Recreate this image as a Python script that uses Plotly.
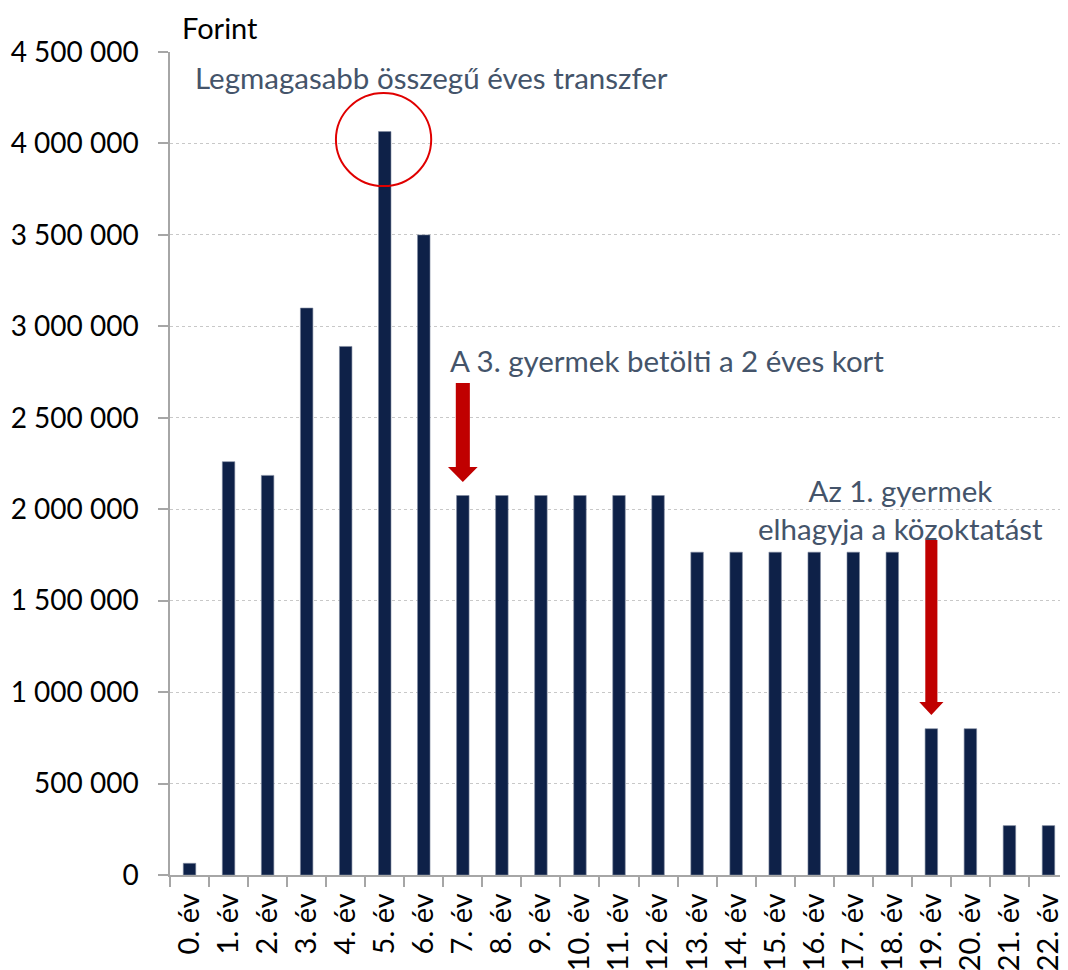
import plotly.graph_objects as go

categories = [f"{i}. év" for i in range(23)]
values = [64000, 2260000, 2185000, 3100000, 2890000, 4065000, 3500000,
          2075000, 2075000, 2075000, 2075000, 2075000, 2075000,
          1765000, 1765000, 1765000, 1765000, 1765000, 1765000,
          800000, 800000, 270000, 270000]
y_ticks = list(range(0, 4500001, 500000))
y_tick_labels = [f"{v:,}".replace(",", " ") for v in y_ticks]

FONT = "Lato"
NAVY = "#0E2148"
NOTE = "#44546A"

fig = go.Figure()
fig.add_trace(go.Bar(
    x=categories, y=values, width=0.32,
    marker=dict(color=NAVY, line=dict(color="#7f8aa0", width=0.6)),
    hoverinfo="x+y",
))

def arrow_path(xc, hw_shaft, hw_head, y_top, y_head, y_tip):
    return (f"M {xc-hw_shaft} {y_top} L {xc+hw_shaft} {y_top} L {xc+hw_shaft} {y_head} "
            f"L {xc+hw_head} {y_head} L {xc} {y_tip} L {xc-hw_head} {y_head} "
            f"L {xc-hw_shaft} {y_head} Z")

shapes = [
    dict(type="circle", xref="x", yref="y", x0=3.75, x1=6.19, y0=3.767e6, y1=4.276e6,
         line=dict(color="#E00000", width=2)),
    dict(type="path", xref="x", yref="y",
         path=arrow_path(7, 0.18, 0.38, 2.69e6, 2.231e6, 2.149e6),
         fillcolor="#C00000", line=dict(width=0)),
    dict(type="path", xref="x", yref="y",
         path=arrow_path(19, 0.155, 0.31, 1.832e6, 0.946e6, 0.875e6),
         fillcolor="#C00000", line=dict(width=0)),
]

annotations = [
    dict(text="Forint", xref="paper", yref="paper", x=0.011, y=1.053, xanchor="left",
         yanchor="top", showarrow=False, font=dict(family=FONT, size=29, color="black")),
    dict(text="Legmagasabb összegű éves transzfer", xref="paper", yref="y",
         x=0.026, y=4.36e6, xanchor="left", yanchor="middle", showarrow=False,
         font=dict(family=FONT, size=29.5, color=NOTE)),
    dict(text="A 3. gyermek betölti a 2 éves kort", xref="paper", yref="y",
         x=0.31, y=2.815e6, xanchor="left", yanchor="middle", showarrow=False,
         font=dict(family=FONT, size=29.5, color=NOTE)),
    dict(text="Az 1. gyermek<br>elhagyja a közoktatást", xref="x", yref="y",
         x=18.2, y=2.0e6, xanchor="center", yanchor="middle", showarrow=False,
         align="center",
         font=dict(family=FONT, size=29.5, color=NOTE)),
]

# the page body adds an 8px offset; compensate so the plot sits where the reference has it
fig.update_layout(
    width=1060, height=962,
    margin=dict(l=162, r=0, t=44, b=95),
    paper_bgcolor="white", plot_bgcolor="white",
    showlegend=False, bargap=0.68,
    shapes=shapes, annotations=annotations,
    font=dict(family=FONT, size=28, color="black"),
)
fig.update_yaxes(
    range=[0, 4500000], tickvals=y_ticks, ticktext=y_tick_labels,
    showgrid=True, gridcolor="#c8c8c8", griddash="dot", gridwidth=1,
    showline=True, linecolor="#a6a6a6", linewidth=1.5,
    ticks="outside", ticklen=10, tickcolor="#a6a6a6", tickwidth=1.5,
    ticklabelstandoff=14, zeroline=False, automargin=False,
    tickfont=dict(family=FONT, size=28, color="black"),
)
fig.update_xaxes(
    type="category", range=[-0.5, 22.5],
    showline=True, linecolor="#a6a6a6", linewidth=1.5,
    ticks="outside", ticklen=10, tickcolor="#a6a6a6", tickwidth=1.5,
    tickson="boundaries", tickangle=-90, automargin=False,
    ticklabelstandoff=5,
    tickfont=dict(family=FONT, size=29, color="black"),
)

fig.write_html("out.html", config={"displayModeBar": False})
